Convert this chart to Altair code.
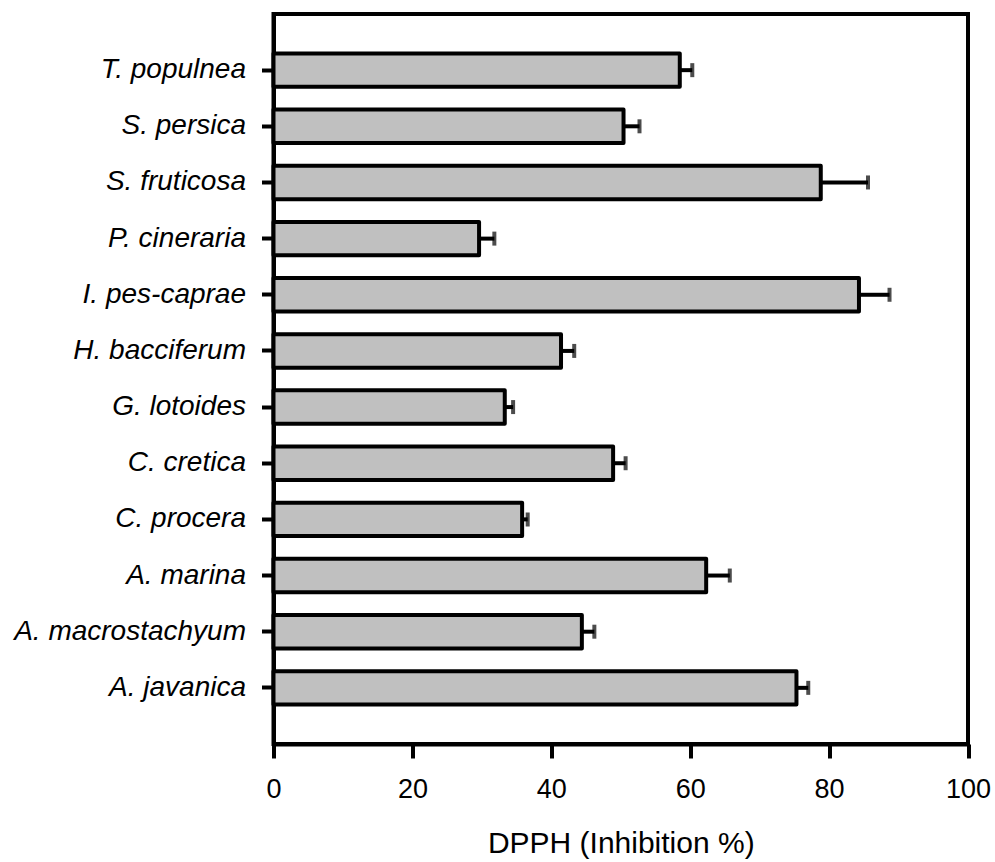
import altair as alt
import pandas as pd

species = ["T. populnea", "S. persica", "S. fruticosa", "P. cineraria", "I. pes-caprae",
           "H. bacciferum", "G. lotoides", "C. cretica", "C. procera", "A. marina",
           "A. macrostachyum", "A. javanica"]
inhibition = [58.5, 50.4, 78.8, 29.6, 84.3, 41.4, 33.3, 48.9, 35.8, 62.3, 44.4, 75.3]
error = [1.8, 2.3, 6.8, 2.2, 4.4, 1.9, 1.2, 1.8, 0.8, 3.4, 1.8, 1.7]
x_ticks = [0, 20, 40, 60, 80, 100]

df = pd.DataFrame({"species": species, "value": inhibition, "err": error})
df["upper"] = df["value"] + df["err"]

FONT = "Liberation Sans"
LW = 4

yscale = alt.Scale(domain=species, paddingInner=0.405, paddingOuter=0.7025)
xscale = alt.Scale(domain=[0, 100], nice=False, zero=True)

y_enc = alt.Y("species:N", scale=yscale, sort=species,
              axis=alt.Axis(title=None, labelFont=FONT, labelFontSize=28, labelFontStyle="italic",
                            labelColor="black", labelPadding=16, tickSize=12, tickWidth=LW,
                            tickColor="black", domainColor="black", domainWidth=LW, grid=False,
                            labelLimit=400))
x_enc = alt.X("value:Q", scale=xscale,
              axis=alt.Axis(title="DPPH (Inhibition %)", values=x_ticks, labelFont=FONT,
                            labelFontSize=27, labelColor="black", labelPadding=18, tickSize=14,
                            tickWidth=LW, tickColor="black", domainColor="black", domainWidth=LW,
                            labelFlush=False, labelOverlap=False,
                            grid=False, titleFont=FONT, titleFontSize=30, titleFontWeight="normal",
                            titleColor="black", titlePadding=26))

base = alt.Chart(df)

bars = base.mark_bar(fill="#c0c0c0", stroke="black", strokeWidth=LW, strokeJoin="round").encode(
    x=x_enc, y=y_enc)

rules = base.mark_rule(color="black", strokeWidth=LW).encode(
    x=alt.X("value:Q", scale=xscale), x2="upper:Q", y=alt.Y("species:N", scale=yscale, sort=species))

caps = base.mark_tick(color="black", thickness=LW, size=14, orient="vertical").encode(
    x=alt.X("upper:Q", scale=xscale), y=alt.Y("species:N", scale=yscale, sort=species))

chart = alt.layer(rules, bars, caps).properties(
    width=694.5, height=730,
    autosize=alt.AutoSizeParams(type="none"),
    padding={"left": 273.5, "top": 14, "right": 27, "bottom": 118},
    background="white",
).configure_view(stroke="black", strokeWidth=LW)

chart.save("out.html", embed_options={"renderer": "svg", "actions": False})
